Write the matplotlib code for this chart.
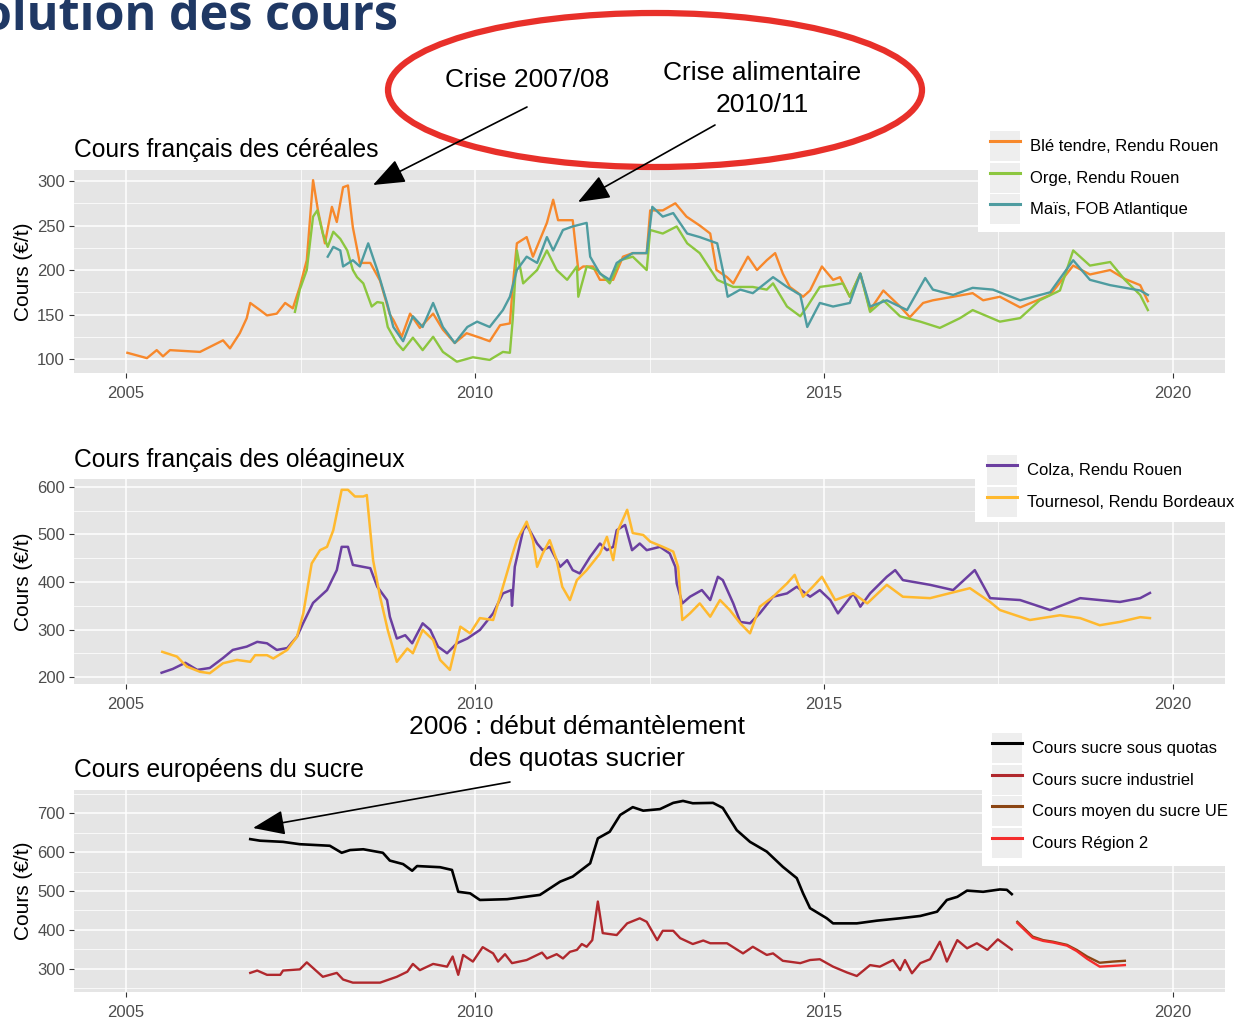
import matplotlib
matplotlib.use('Agg')
import matplotlib.pyplot as plt
from matplotlib.patches import Ellipse, Rectangle
from matplotlib.legend_handler import HandlerTuple
from matplotlib.lines import Line2D
from matplotlib.ticker import MultipleLocator

plt.rcParams['font.family'] = ['Liberation Sans', 'DejaVu Sans']

# ---------------- DATA ----------------
# Céréales (€/t)
ble_year = [2005.02, 2005.30, 2005.44, 2005.53, 2005.63, 2006.06, 2006.39, 2006.49, 2006.63, 2006.73,
            2006.78, 2006.92, 2007.02, 2007.16, 2007.28, 2007.39, 2007.49, 2007.59, 2007.68, 2007.75,
            2007.85, 2007.95, 2008.02, 2008.11, 2008.18, 2008.25, 2008.35, 2008.50, 2008.64, 2008.78,
            2008.83, 2008.95, 2009.07, 2009.21, 2009.40, 2009.54, 2009.71, 2009.88, 2010.07, 2010.21,
            2010.36, 2010.50, 2010.54, 2010.60, 2010.74, 2010.83, 2011.03, 2011.12, 2011.19, 2011.26,
            2011.40, 2011.48, 2011.55, 2011.69, 2011.79, 2011.98, 2012.12, 2012.26, 2012.46, 2012.51,
            2012.69, 2012.87, 2013.03, 2013.22, 2013.37, 2013.46, 2013.61, 2013.70, 2013.91, 2014.04,
            2014.18, 2014.30, 2014.41, 2014.51, 2014.70, 2014.80, 2014.97, 2015.13, 2015.23, 2015.37,
            2015.52, 2015.66, 2015.85, 2016.09, 2016.23, 2016.42, 2016.56, 2016.85, 2017.13, 2017.28,
            2017.52, 2017.81, 2018.24, 2018.57, 2018.81, 2019.10, 2019.31, 2019.53, 2019.64]
ble_val = [107, 101, 110, 103, 110, 108, 121, 112, 129, 146,
           163, 155, 149, 151, 163, 157, 181, 211, 301, 267,
           230, 271, 254, 293, 295, 248, 208, 208, 188, 150,
           144, 125, 151, 135, 151, 133, 118, 129, 124, 120,
           138, 140, 181, 230, 237, 215, 253, 279, 256, 256,
           256, 200, 204, 204, 189, 189, 215, 219, 219, 267,
           267, 275, 260, 250, 241, 200, 192, 185, 215, 200,
           211, 219, 196, 181, 170, 177, 204, 189, 192, 170,
           196, 155, 177, 159, 147, 163, 166, 170, 174, 166,
           170, 158, 172, 205, 195, 200, 190, 183, 165]

orge_year = [2007.42, 2007.49, 2007.59, 2007.68, 2007.74, 2007.82, 2007.89, 2007.97, 2008.07, 2008.17,
             2008.25, 2008.31, 2008.40, 2008.52, 2008.60, 2008.68, 2008.75, 2008.88, 2008.97, 2009.11,
             2009.25, 2009.40, 2009.54, 2009.74, 2009.97, 2010.21, 2010.40, 2010.50, 2010.54, 2010.60,
             2010.69, 2010.89, 2011.03, 2011.17, 2011.32, 2011.46, 2011.48, 2011.60, 2011.75, 2011.93,
             2012.08, 2012.26, 2012.46, 2012.51, 2012.69, 2012.89, 2013.04, 2013.22, 2013.47, 2013.70,
             2013.98, 2014.18, 2014.27, 2014.47, 2014.66, 2014.76, 2014.94, 2015.13, 2015.27, 2015.37,
             2015.52, 2015.66, 2015.85, 2016.09, 2016.38, 2016.66, 2016.95, 2017.13, 2017.34, 2017.52,
             2017.81, 2018.09, 2018.38, 2018.57, 2018.81, 2019.10, 2019.31, 2019.53, 2019.64]
orge_val = [153, 178, 200, 260, 267, 241, 226, 243, 235, 222,
            200, 192, 185, 159, 164, 163, 136, 118, 110, 124,
            110, 125, 108, 97, 102, 99, 108, 107, 144, 222,
            185, 200, 222, 200, 189, 204, 170, 204, 200, 185,
            211, 215, 200, 245, 241, 249, 230, 219, 189, 181,
            181, 178, 185, 159, 148, 159, 181, 183, 185, 170,
            196, 153, 166, 148, 142, 135, 146, 155, 148, 142,
            146, 166, 177, 222, 205, 209, 189, 172, 155]

mais_year = [2007.89, 2007.97, 2008.07, 2008.11, 2008.25, 2008.35, 2008.47, 2008.60, 2008.74, 2008.83,
             2008.97, 2009.11, 2009.25, 2009.40, 2009.54, 2009.71, 2009.89, 2010.03, 2010.21, 2010.40,
             2010.50, 2010.60, 2010.74, 2010.89, 2011.03, 2011.12, 2011.26, 2011.40, 2011.60, 2011.65,
             2011.79, 2011.93, 2012.03, 2012.26, 2012.46, 2012.54, 2012.69, 2012.84, 2013.04, 2013.22,
             2013.47, 2013.55, 2013.62, 2013.80, 2013.98, 2014.27, 2014.47, 2014.66, 2014.76, 2014.94,
             2015.13, 2015.37, 2015.52, 2015.66, 2015.90, 2016.19, 2016.45, 2016.56, 2016.85, 2017.13,
             2017.42, 2017.81, 2018.24, 2018.57, 2018.81, 2019.10, 2019.53, 2019.64]
mais_val = [215, 226, 222, 204, 211, 204, 230, 200, 163, 136,
            120, 148, 136, 163, 136, 118, 136, 142, 136, 155,
            170, 200, 215, 208, 237, 222, 245, 249, 253, 215,
            196, 189, 208, 219, 219, 271, 260, 264, 241, 237,
            230, 200, 170, 178, 174, 192, 181, 172, 136, 163,
            159, 163, 196, 159, 166, 155, 191, 178, 172, 180,
            178, 166, 175, 211, 189, 183, 177, 172]

# Oléagineux (€/t)
colza_year = [2005.51, 2005.67, 2005.85, 2006.02, 2006.20, 2006.39, 2006.53, 2006.73, 2006.88, 2007.02,
              2007.16, 2007.31, 2007.45, 2007.54, 2007.68, 2007.88, 2008.02, 2008.09, 2008.18, 2008.25,
              2008.50, 2008.60, 2008.74, 2008.78, 2008.88, 2009.00, 2009.10, 2009.25, 2009.36, 2009.47,
              2009.60, 2009.74, 2009.89, 2010.07, 2010.26, 2010.40, 2010.52, 2010.53, 2010.57, 2010.69,
              2010.74, 2010.89, 2010.97, 2011.07, 2011.22, 2011.32, 2011.40, 2011.50, 2011.65, 2011.79,
              2011.89, 2011.98, 2012.03, 2012.15, 2012.25, 2012.36, 2012.46, 2012.65, 2012.79, 2012.87,
              2012.89, 2012.97, 2013.08, 2013.25, 2013.37, 2013.48, 2013.55, 2013.70, 2013.80, 2013.94,
              2014.08, 2014.27, 2014.47, 2014.61, 2014.80, 2014.94, 2015.09, 2015.20, 2015.42, 2015.52,
              2015.66, 2015.90, 2016.02, 2016.13, 2016.52, 2016.85, 2017.16, 2017.38, 2017.81, 2018.24,
              2018.67, 2018.95, 2019.24, 2019.53, 2019.67]
colza_val = [209, 217, 230, 215, 219, 240, 257, 264, 274, 271,
             257, 261, 285, 314, 356, 383, 425, 474, 474, 436,
             429, 390, 362, 327, 281, 288, 271, 313, 299, 264,
             250, 271, 281, 299, 334, 376, 383, 350, 432, 509,
             520, 481, 467, 474, 432, 446, 425, 418, 453, 481,
             467, 474, 509, 520, 467, 481, 467, 474, 460, 432,
             397, 355, 369, 383, 362, 411, 404, 355, 316, 313,
             334, 369, 376, 390, 369, 383, 362, 334, 376, 348,
             376, 411, 425, 404, 394, 383, 425, 366, 362, 341,
             366, 362, 358, 366, 377]

tournesol_year = [2005.52, 2005.73, 2005.87, 2006.06, 2006.20, 2006.39, 2006.59, 2006.78, 2006.85, 2007.02,
                  2007.11, 2007.31, 2007.45, 2007.54, 2007.66, 2007.78, 2007.88, 2007.97, 2008.09, 2008.18,
                  2008.28, 2008.40, 2008.45, 2008.54, 2008.64, 2008.75, 2008.88, 2009.03, 2009.11, 2009.25,
                  2009.40, 2009.50, 2009.64, 2009.79, 2009.93, 2010.07, 2010.26, 2010.40, 2010.54, 2010.60,
                  2010.74, 2010.83, 2010.89, 2010.97, 2011.07, 2011.17, 2011.25, 2011.36, 2011.46, 2011.60,
                  2011.79, 2011.89, 2011.98, 2012.05, 2012.18, 2012.26, 2012.41, 2012.51, 2012.69, 2012.84,
                  2012.91, 2012.97, 2013.08, 2013.22, 2013.37, 2013.51, 2013.65, 2013.80, 2013.94, 2014.08,
                  2014.27, 2014.47, 2014.58, 2014.70, 2014.84, 2014.97, 2015.16, 2015.42, 2015.62, 2015.90,
                  2016.13, 2016.52, 2017.09, 2017.38, 2017.52, 2017.95, 2018.38, 2018.67, 2018.95, 2019.24,
                  2019.53, 2019.67]
tournesol_val = [253, 243, 222, 211, 208, 229, 236, 232, 246, 246,
                 239, 257, 285, 334, 439, 467, 474, 509, 594, 594,
                 580, 580, 583, 446, 369, 299, 232, 260, 250, 299,
                 278, 236, 215, 306, 292, 324, 320, 390, 460, 488,
                 527, 488, 432, 460, 488, 446, 390, 362, 404, 425,
                 460, 495, 446, 509, 552, 503, 499, 485, 474, 464,
                 432, 320, 334, 355, 327, 362, 341, 313, 292, 348,
                 369, 397, 415, 369, 390, 411, 362, 376, 355, 394,
                 369, 366, 387, 358, 341, 320, 330, 324, 309, 316,
                 326, 324]

# Sucre (€/t)
quotas_year = [2006.78, 2006.92, 2007.25, 2007.49, 2007.92, 2008.09, 2008.21, 2008.40, 2008.68, 2008.78,
               2008.97, 2009.10, 2009.17, 2009.50, 2009.67, 2009.76, 2009.93, 2010.07, 2010.46, 2010.93,
               2011.22, 2011.40, 2011.65, 2011.76, 2011.93, 2012.08, 2012.26, 2012.41, 2012.65, 2012.84,
               2012.98, 2013.12, 2013.41, 2013.55, 2013.75, 2013.94, 2014.18, 2014.41, 2014.61, 2014.70,
               2014.80, 2015.04, 2015.13, 2015.47, 2015.76, 2016.09, 2016.38, 2016.62, 2016.76, 2016.91,
               2017.05, 2017.28, 2017.52, 2017.62, 2017.69]
quotas_val = [633, 629, 626, 620, 616, 598, 605, 607, 598, 578,
              569, 552, 564, 561, 554, 498, 494, 477, 479, 490,
              524, 537, 571, 635, 652, 695, 715, 706, 710, 726,
              731, 725, 726, 713, 656, 626, 601, 562, 533, 494,
              456, 430, 417, 417, 424, 430, 436, 447, 477, 485,
              501, 498, 504, 503, 492]

industriel_year = [2006.78, 2006.88, 2007.02, 2007.21, 2007.25, 2007.49, 2007.59, 2007.82, 2008.02, 2008.11,
                   2008.25, 2008.64, 2008.88, 2009.03, 2009.11, 2009.21, 2009.40, 2009.60, 2009.68, 2009.76,
                   2009.83, 2009.97, 2010.11, 2010.26, 2010.33, 2010.43, 2010.53, 2010.74, 2010.96, 2011.03,
                   2011.17, 2011.26, 2011.36, 2011.46, 2011.53, 2011.60, 2011.68, 2011.76, 2011.83, 2012.03,
                   2012.18, 2012.36, 2012.46, 2012.61, 2012.69, 2012.84, 2012.94, 2013.12, 2013.27, 2013.37,
                   2013.61, 2013.84, 2013.98, 2014.18, 2014.27, 2014.41, 2014.66, 2014.80, 2014.94, 2015.13,
                   2015.33, 2015.47, 2015.66, 2015.80, 2015.99, 2016.09, 2016.16, 2016.26, 2016.38, 2016.52,
                   2016.66, 2016.76, 2016.91, 2017.05, 2017.19, 2017.34, 2017.49, 2017.69]
industriel_val = [290, 296, 285, 285, 296, 299, 317, 280, 290, 273,
                  265, 265, 280, 293, 313, 297, 313, 306, 332, 285,
                  336, 319, 356, 340, 319, 338, 315, 323, 342, 327,
                  338, 327, 344, 349, 364, 357, 374, 473, 392, 387,
                  417, 430, 421, 374, 398, 398, 379, 364, 373, 366,
                  366, 340, 357, 336, 340, 321, 315, 323, 325, 306,
                  291, 282, 310, 306, 323, 297, 323, 289, 315, 325,
                  370, 319, 374, 353, 366, 349, 376, 350]

moyen_year = [2017.77, 2017.99, 2018.14, 2018.28, 2018.48, 2018.62, 2018.77, 2018.95, 2019.14, 2019.31]
moyen_val = [421, 383, 374, 370, 362, 349, 332, 316, 319, 321]

region2_year = [2017.77, 2017.99, 2018.14, 2018.28, 2018.48, 2018.62, 2018.77, 2018.95, 2019.14, 2019.31]
region2_val = [418, 380, 372, 368, 360, 346, 326, 306, 308, 310]

# Labels
panel_titles = ['Cours français des céréales', 'Cours français des oléagineux', 'Cours européens du sucre']
cereal_labels = ['Blé tendre, Rendu Rouen', 'Orge, Rendu Rouen', 'Maïs, FOB Atlantique']
oil_labels = ['Colza, Rendu Rouen', 'Tournesol, Rendu Bordeaux']
sugar_labels = ['Cours sucre sous quotas', 'Cours sucre industriel', 'Cours moyen du sucre UE', 'Cours Région 2']
cereal_colors = ['#F7882B', '#8CC63F', '#4E9CA0']
oil_colors = ['#6B3FA0', '#FFB92E']
sugar_colors = ['#000000', '#B0282D', '#8B4513', '#F42C2C']

# ---------------- FIGURE ----------------
W, H = 1238, 1019
fig = plt.figure(figsize=(W / 100, H / 100), dpi=100)


def px_axes(left, top, right, bottom, **kw):
    return fig.add_axes([left / W, 1 - bottom / H, (right - left) / W, (bottom - top) / H], **kw)


def style(ax, ylim, step, title):
    ax.set_facecolor('#E5E5E5')
    ax.set_xlim(2004.255, 2020.745)
    ax.set_ylim(*ylim)
    ax.xaxis.set_major_locator(MultipleLocator(5))
    ax.xaxis.set_minor_locator(MultipleLocator(2.5))
    ax.yaxis.set_major_locator(MultipleLocator(step))
    ax.yaxis.set_minor_locator(MultipleLocator(step / 2))
    ax.grid(which='major', color='white', lw=1.1)
    ax.grid(which='minor', color='white', lw=0.55)
    ax.set_axisbelow(True)
    for s in ax.spines.values():
        s.set_visible(False)
    ax.tick_params(which='major', length=3.5, width=0.8, color='#333333',
                   labelsize=12, labelcolor='#4D4D4D', pad=3)
    ax.tick_params(axis='x', which='major', pad=6)
    ax.tick_params(which='minor', length=0)
    ax.set_ylabel('Cours (€/t)', fontsize=15, labelpad=3)
    ax.set_title(title, loc='left', fontsize=17.7, pad=9)


def legend_box(x0, y0, x1, y1):
    fig.add_artist(Rectangle((x0 / W, 1 - y1 / H), (x1 - x0) / W, (y1 - y0) / H,
                             transform=fig.transFigure, facecolor='white',
                             edgecolor='none', zorder=2))


def add_legend(colors, labels, x, y, lw=2.2):
    handles = [(Rectangle((0, 0), 1, 1, facecolor='#EEEEEE', edgecolor='none'),
                Line2D([], [], color=c, lw=lw)) for c in colors]
    fig.legend(handles, labels, loc='upper left', bbox_to_anchor=(x / W, 1 - y / H),
               bbox_transform=fig.transFigure, frameon=False, fontsize=12,
               borderpad=0, borderaxespad=0, handlelength=1.8, handleheight=2.4,
               handletextpad=0.6, labelspacing=0.09,
               handler_map={tuple: HandlerTuple(ndivide=1, pad=0)})


# Panel 1 : céréales
ax1 = px_axes(74, 170, 1225, 373)
style(ax1, (84.3, 312.4), 50, panel_titles[0])
ax1.plot(ble_year, ble_val, color=cereal_colors[0], lw=1.7)
ax1.plot(orge_year, orge_val, color=cereal_colors[1], lw=1.7)
ax1.plot(mais_year, mais_val, color=cereal_colors[2], lw=1.7)

# Panel 2 : oléagineux
ax2 = px_axes(74, 479, 1225, 684)
style(ax2, (185.3, 616.8), 100, panel_titles[1])
ax2.plot(colza_year, colza_val, color=oil_colors[0], lw=1.8)
ax2.plot(tournesol_year, tournesol_val, color=oil_colors[1], lw=1.8)

# Panel 3 : sucre
ax3 = px_axes(74, 790, 1225, 992)
style(ax3, (241, 759), 100, panel_titles[2])
ax3.plot(quotas_year, quotas_val, color=sugar_colors[0], lw=1.9)
ax3.plot(industriel_year, industriel_val, color=sugar_colors[1], lw=1.7)
ax3.plot(moyen_year, moyen_val, color=sugar_colors[2], lw=1.7)
ax3.plot(region2_year, region2_val, color=sugar_colors[3], lw=1.7)

# Legends
legend_box(978, 125, 1240, 232)
add_legend(cereal_colors, cereal_labels, 990, 131)
legend_box(975, 450, 1240, 522)
add_legend(oil_colors, oil_labels, 987, 455)
legend_box(982, 730, 1240, 866)
add_legend(sugar_colors, sugar_labels, 992, 733)

# Overlay for annotations
ov = fig.add_axes([0, 0, 1, 1], zorder=10)
ov.set_xlim(0, W)
ov.set_ylim(H, 0)
ov.axis('off')
ov.patch.set_alpha(0)

ov.text(398, 30, 'Évolution des cours', ha='right', va='baseline', fontsize=35,
        fontweight='bold', color='#1F3864', family=['Open Sans', 'DejaVu Sans'])

ov.add_patch(Ellipse((655, 90), 534, 154, fill=False, edgecolor='#E8302A', lw=4.5))
ov.text(527, 80, 'Crise 2007/08', ha='center', va='center', fontsize=19)
ov.text(762, 89, 'Crise alimentaire\n2010/11', ha='center', va='center', fontsize=19, linespacing=1.45)
ov.text(577, 743, '2006 : début démantèlement\ndes quotas sucrier', ha='center', va='center',
        fontsize=19, linespacing=1.45)

arrow_kw = dict(arrowstyle='-|>,head_length=0.9,head_width=0.35', color='black', lw=1.2,
                shrinkA=0, shrinkB=0, mutation_scale=22)
ov.annotate('', xy=(373, 185), xytext=(527, 107), arrowprops=arrow_kw)
ov.annotate('', xy=(578, 202), xytext=(715, 125), arrowprops=arrow_kw)
ov.annotate('', xy=(253, 828), xytext=(510, 782), arrowprops=arrow_kw)

fig.savefig('out.png', dpi=100)
